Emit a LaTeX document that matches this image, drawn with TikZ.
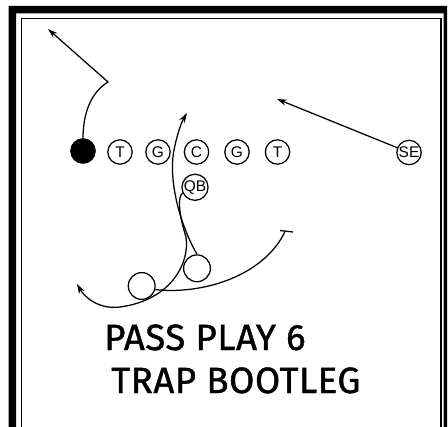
\documentclass[tikz,border=0pt]{standalone}
\usepackage{fontspec}
\setsansfont{Liberation Sans}
\newfontfamily\handfont[LetterSpace=1.5,FakeBold=1.2]{Fira Sans}
\usetikzlibrary{arrows.meta}

\begin{document}
\begin{tikzpicture}[x=0.25mm,y=-0.25mm,
  player/.style={draw,circle,line width=0.9pt,minimum size=6.1mm,inner sep=0pt,
    font=\sffamily\fontsize{11}{12}\selectfont},
  back/.style={draw,circle,line width=0.9pt,minimum size=6.7mm,inner sep=0pt},
  route/.style={line width=0.9pt},
  arrowroute/.style={route,-{Stealth[length=7pt,width=4.5pt]}},
  hand/.style={anchor=base west,inner sep=0pt,
    font=\handfont\fontsize{26}{30}\selectfont}]
\useasboundingbox (0,0) rectangle (448,426);
\clip (0,0) rectangle (448,426);
\fill[even odd rule] (8.5,6) rectangle (447,440) (16,13.5) rectangle (443.5,440);
\draw[line width=1pt] (21.5,440) |- (441,18.5) -- (441,440);

\node[player,fill] (le) at (83,151) {};
\node[player] (lt) at (120,152) {T};
\node[player] (lg) at (158,152) {G};
\node[player] (c) at (196.5,152) {C};
\node[player] (rg) at (237,152) {G};
\node[player] (rt) at (277.5,152) {T};
\node[player] (se) at (409,152.5) {SE};
\node[player] (qb) at (195,187.3) {QB};
\node[back] (fb) at (197,268.3) {};
\node[back] (hb) at (141.7,286) {};

\draw[arrowroute] (le.north) .. controls (83,115) and (90,93) .. (108,82) -- (48,29);
\draw[arrowroute] (se) -- (277,99);
\draw[arrowroute] (fb.north) .. controls (180,225) and (168,180) .. (174,150)
  .. controls (177,135) and (181,123) .. (187,113);
\draw[arrowroute] (qb.205) .. controls (178,196) and (178,212) .. (186,237)
  .. controls (190,262) and (172,300) .. (120,307)
  .. controls (100,309.7) and (85,298) .. (77,284);

\coordinate (hbend) at (285,231.5);
\draw[route] (hb.-15) -- (168,290.5) .. controls (220,291) and (268,268) .. (hbend);
\draw[route] (hbend) ++(-5,-1) -- ++(13,1.5);

\node[hand] (title1) at (104,350) {PASS PLAY 6};
\node[hand] (title2) at (111,393) {TRAP BOOTLEG};
\end{tikzpicture}
\end{document}
